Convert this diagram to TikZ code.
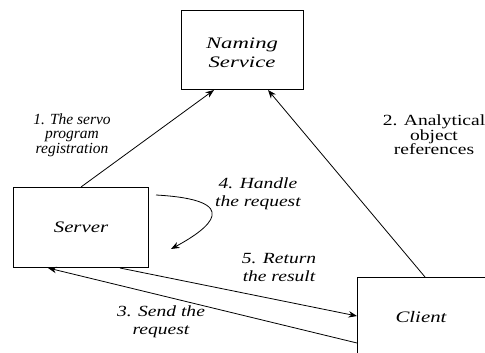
\documentclass[tikz,border=0pt]{standalone}
\usepackage{fontspec}
\usepackage{graphicx}
\setmainfont{Liberation Serif}
\usetikzlibrary{arrows.meta,calc}
% horizontally widened text
\newcommand{\wide}[2][1.3]{\scalebox{#1}[1]{#2}}
\begin{document}
\begin{tikzpicture}[x=1pt,y=-1pt,
  box/.style={draw,line width=1pt,inner sep=0pt,anchor=north west},
  link/.style={line width=0.8pt,-{Stealth[length=8.5pt,width=6.5pt]}},
  lbl/.style={align=center,inner sep=0pt},
  boxtitle/.style={font=\fontsize{16}{19}\selectfont\itshape,align=center,inner sep=0pt}]
\useasboundingbox (0,0) rectangle (485,353);
\clip (0,0) rectangle (485,353);

% boxes
\node[box,minimum width=122pt,minimum height=79pt] (naming) at (181,10) {};
\node[box,minimum width=135pt,minimum height=80pt] (server) at (13,187) {};
\node[box,minimum width=150pt,minimum height=100pt] (client) at (357,277) {};

% box titles
\node[boxtitle] (namingtxt) at (242,52.5) {\wide[1.42]{Naming}\\\wide[1.42]{Service}};
\node[boxtitle] (servertxt) at (81,227) {\wide[1.3]{Server}};
\node[boxtitle] (clienttxt) at (421,317) {\wide[1.3]{Client}};

% connectors
\draw[link] ($(server.north west)+(68,0)$) -- ($(naming.south west)+(33,0)$);
\draw[link] ($(client.north west)+(68,0)$) -- ($(naming.south west)+(87,0)$);
\draw[link] ($(server.south west)+(107,0)$) -- ($(client.north west)+(0,39)$);
\draw[link] ($(client.north west)+(0,66)$) -- ($(server.south west)+(35,0)$);
\coordinate (loopstart) at ($(server.north east)+(7,8)$);
\coordinate (loopend) at ($(server.north east)+(22,62)$);
\draw[link] (loopstart) .. controls (245,200) and (210,228) .. (loopend);

% labels
\node[lbl,font=\fontsize{15.5}{14.5}\selectfont\itshape] (l1) at (72,135)
  {1. The servo\\program\\registration};
\node[lbl,font=\fontsize{15.5}{14.5}\selectfont] (l2) at (434,135)
  {\wide[1.26]{2. Analytical}\\\wide[1.26]{object}\\\wide[1.26]{references}};
\node[lbl,font=\fontsize{15.5}{18}\selectfont\itshape] (l4) at (258,194)
  {\wide[1.26]{4. Handle}\\\wide[1.26]{the request}};
\node[lbl,font=\fontsize{15.5}{18}\selectfont\itshape] (l5) at (279,268)
  {\wide[1.26]{5. Return}\\\wide[1.26]{the result}};
\node[lbl,font=\fontsize{15.5}{18}\selectfont\itshape] (l3) at (161,322)
  {\wide[1.26]{3. Send the}\\\wide[1.26]{request}};
\end{tikzpicture}
\end{document}
